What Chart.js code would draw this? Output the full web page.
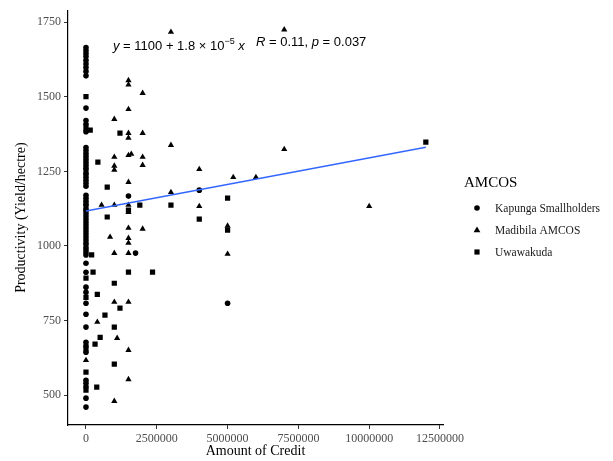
<!DOCTYPE html>
<html>
<head>
<meta charset="utf-8">
<script src="https://cdn.jsdelivr.net/npm/chart.js@4/dist/chart.umd.min.js"></script>
<style>
  html, body { margin: 0; padding: 0; background: #fff; }
</style>
</head>
<body>
<canvas id="chart" width="613" height="461"></canvas>
<script>
const groupNames = ['Kapunga Smallholders', 'Madibila AMCOS', 'Uwawakuda'];

const kapungaCredit = [0, 0, 0, 0, 0, 0, 0, 0, 0, 0, 0, 0, 0, 0, 0, 0, 0, 0, 0, 0,
  0, 0, 0, 0, 0, 0, 0, 0, 0, 0, 0, 0, 0, 0, 0, 0, 0, 0, 0, 0,
  0, 0, 0, 0, 0, 0, 0, 0, 0, 0, 0, 0, 0, 0, 0, 0, 0, 0, 0, 0,
  1500000, 4000000, 1750000, 5000000];
const kapungaYield = [1665, 1655, 1645, 1635, 1622, 1610, 1598, 1585, 1570, 1462,
  1420, 1408, 1383, 1330, 1320, 1310, 1300, 1290, 1280, 1270,
  1260, 1240, 1230, 1220, 1210, 1200, 1170, 1160, 1150, 1140,
  1120, 1110, 1100, 1090, 1080, 1070, 1060, 1050, 1040, 1030,
  1020, 1010, 990, 980, 970, 942, 912, 862, 845, 808,
  771, 728, 677, 665, 644, 550, 540, 528, 490, 460,
  1167, 1187, 976, 808];

const madibilaCredit = [3000000, 7000000, 1500000, 1500000, 2000000, 1500000, 1000000, 1500000,
  1500000, 2000000, 3000000, 1000000, 1500000, 1600000, 2000000, 1000000, 1000000, 2000000,
  4000000, 1500000, 3000000, 550000, 1000000, 1500000, 4000000, 1500000, 5200000, 6000000,
  7000000, 5000000, 5000000, 10000000, 1500000, 2000000, 850000, 1500000, 1500000, 1000000,
  1500000, 1000000, 1500000, 400000, 1100000, 1500000, 1500000, 1000000, 0];
const madibilaYield = [1717, 1725, 1555, 1540, 1512, 1458, 1425, 1378,
  1362, 1378, 1338, 1298, 1304, 1308, 1298, 1268, 1255, 1271,
  1257, 1214, 1180, 1137, 1137, 1137, 1133, 1113, 1230, 1230,
  1324, 1067, 973, 1133, 1060, 1057, 1030, 1026, 1010, 976,
  976, 812, 812, 745, 691, 651, 553, 480, 617];

const uwawakudaCredit = [0, 0, 0, 0, 0, 0, 0, 0, 0, 0,
  150000, 1200000, 420000, 750000, 1500000, 1900000, 3000000, 4000000, 750000, 5000000,
  5000000, 12000000, 200000, 250000, 1500000, 2350000, 1000000, 400000, 1200000, 670000,
  1000000, 500000, 320000, 1000000, 380000];
const uwawakudaYield = [1500, 1395, 1250, 1130, 1000, 892, 828, 655, 577, 517,
  1388, 1378, 1281, 1197, 1120, 1137, 1137, 1090, 1097, 1160,
  1053, 1348, 970, 912, 912, 912, 875, 838, 792, 768,
  728, 694, 671, 604, 527];

// fitted line end points
const fitCredit = [0, 12000000];
const fitYield = [1117, 1331];

const xTicks = [0, 2500000, 5000000, 7500000, 10000000, 12500000];
const yTicks = [500, 750, 1000, 1250, 1500, 1750];

const serif = "'Liberation Serif', 'Times New Roman', serif";
const sans = "'Liberation Sans', Arial, sans-serif";

function toPoints(xs, ys) {
  return xs.map((x, i) => ({ x: x, y: ys[i] }));
}

const equationPlugin = {
  id: 'equation',
  afterDraw(chart) {
    const ctx = chart.ctx;
    ctx.save();
    ctx.fillStyle = '#000';
    ctx.textBaseline = 'alphabetic';
    const parts = [
      { t: 'y', f: 'italic 13px ' + sans, dy: 0 },
      { t: ' = 1100 + 1.8 \u00d7 10', f: '13px ' + sans, dy: 0 },
      { t: '\u22125', f: '9px ' + sans, dy: -6 },
      { t: ' x', f: 'italic 13px ' + sans, dy: 0 }
    ];
    let x = 113;
    parts.forEach(p => {
      ctx.font = p.f;
      ctx.fillText(p.t, x, 50 + p.dy);
      x += ctx.measureText(p.t).width;
    });
    const parts2 = [
      { t: 'R', f: 'italic 13px ' + sans },
      { t: ' = 0.11, ', f: '13px ' + sans },
      { t: 'p', f: 'italic 13px ' + sans },
      { t: ' = 0.037', f: '13px ' + sans }
    ];
    x = 256;
    parts2.forEach(p => {
      ctx.font = p.f;
      ctx.fillText(p.t, x, 46);
      x += ctx.measureText(p.t).width;
    });
    ctx.restore();
  }
};

const legendPlugin = {
  id: 'amcosLegend',
  afterDraw(chart) {
    const ctx = chart.ctx;
    ctx.save();
    ctx.fillStyle = '#000';
    ctx.font = '15px ' + serif;
    ctx.textBaseline = 'middle';
    ctx.fillText('AMCOS', 464, 183);
    const sets = chart.data.datasets.filter(d => d.type !== 'line');
    sets.forEach((d, i) => {
      const cx = 477, cy = 208 + i * 22;
      ctx.fillStyle = '#000';
      ctx.beginPath();
      if (d.pointStyle === 'circle') {
        ctx.arc(cx, cy, 2.8, 0, Math.PI * 2);
      } else if (d.pointStyle === 'triangle') {
        ctx.moveTo(cx, cy - 3.6);
        ctx.lineTo(cx + 3.4, cy + 2.3);
        ctx.lineTo(cx - 3.4, cy + 2.3);
        ctx.closePath();
      } else {
        ctx.rect(cx - 2.6, cy - 2.6, 5.2, 5.2);
      }
      ctx.fill();
      ctx.fillStyle = '#1a1a1a';
      ctx.font = '11.5px ' + serif;
      ctx.fillText(d.label, 495, cy + 0.5);
    });
    ctx.restore();
  }
};

new Chart(document.getElementById('chart').getContext('2d'), {
  type: 'scatter',
  data: {
    datasets: [
      {
        type: 'line',
        label: 'fit',
        data: toPoints(fitCredit, fitYield),
        borderColor: '#3366FF',
        borderWidth: 1.5,
        pointRadius: 0,
        fill: false,
        order: 0
      },
      {
        label: groupNames[0],
        data: toPoints(kapungaCredit, kapungaYield),
        pointStyle: 'circle',
        pointRadius: 2.8,
        backgroundColor: '#000',
        borderWidth: 0,
        order: 1
      },
      {
        label: groupNames[1],
        data: toPoints(madibilaCredit, madibilaYield),
        pointStyle: 'triangle',
        pointRadius: 3.6,
        backgroundColor: '#000',
        borderWidth: 0,
        order: 1
      },
      {
        label: groupNames[2],
        data: toPoints(uwawakudaCredit, uwawakudaYield),
        pointStyle: 'rect',
        pointRadius: 3.7,
        backgroundColor: '#000',
        borderWidth: 0,
        order: 1
      }
    ]
  },
  options: {
    responsive: false,
    animation: false,
    devicePixelRatio: 1,
    layout: { padding: { top: 10, right: 170, left: 0, bottom: 0 } },
    plugins: {
      legend: { display: false },
      tooltip: { enabled: false }
    },
    scales: {
      x: {
        type: 'linear',
        min: -635000,
        max: 12606000,
        afterBuildTicks: s => { s.ticks = xTicks.map(v => ({ value: v })); },
        afterFit: s => { s.height = 36; },
        ticks: {
          autoSkip: false,
          maxRotation: 0,
          padding: 3,
          color: '#4d4d4d',
          font: { family: serif, size: 12 },
          callback: v => String(v)
        },
        grid: { drawOnChartArea: false, drawTicks: true, tickLength: 4, color: '#333' },
        border: { display: true, color: '#000', width: 1.2 },
        title: {
          display: true,
          text: 'Amount of Credit',
          color: '#000',
          font: { family: serif, size: 14 },
          padding: { top: 0, bottom: 1 }
        }
      },
      y: {
        min: 400,
        max: 1790,
        afterBuildTicks: s => { s.ticks = yTicks.map(v => ({ value: v })); },
        afterFit: s => { s.width = 68; },
        ticks: {
          padding: 3,
          color: '#4d4d4d',
          font: { family: serif, size: 12 },
          callback: v => String(v)
        },
        grid: { drawOnChartArea: false, drawTicks: true, tickLength: 4, color: '#333' },
        border: { display: true, color: '#000', width: 1.2 },
        title: {
          display: true,
          text: 'Productivity (Yield/hectre)',
          color: '#000',
          font: { family: serif, size: 14 },
          padding: { top: 13, bottom: 0 }
        }
      }
    }
  },
  plugins: [equationPlugin, legendPlugin]
});
</script>
</body>
</html>
